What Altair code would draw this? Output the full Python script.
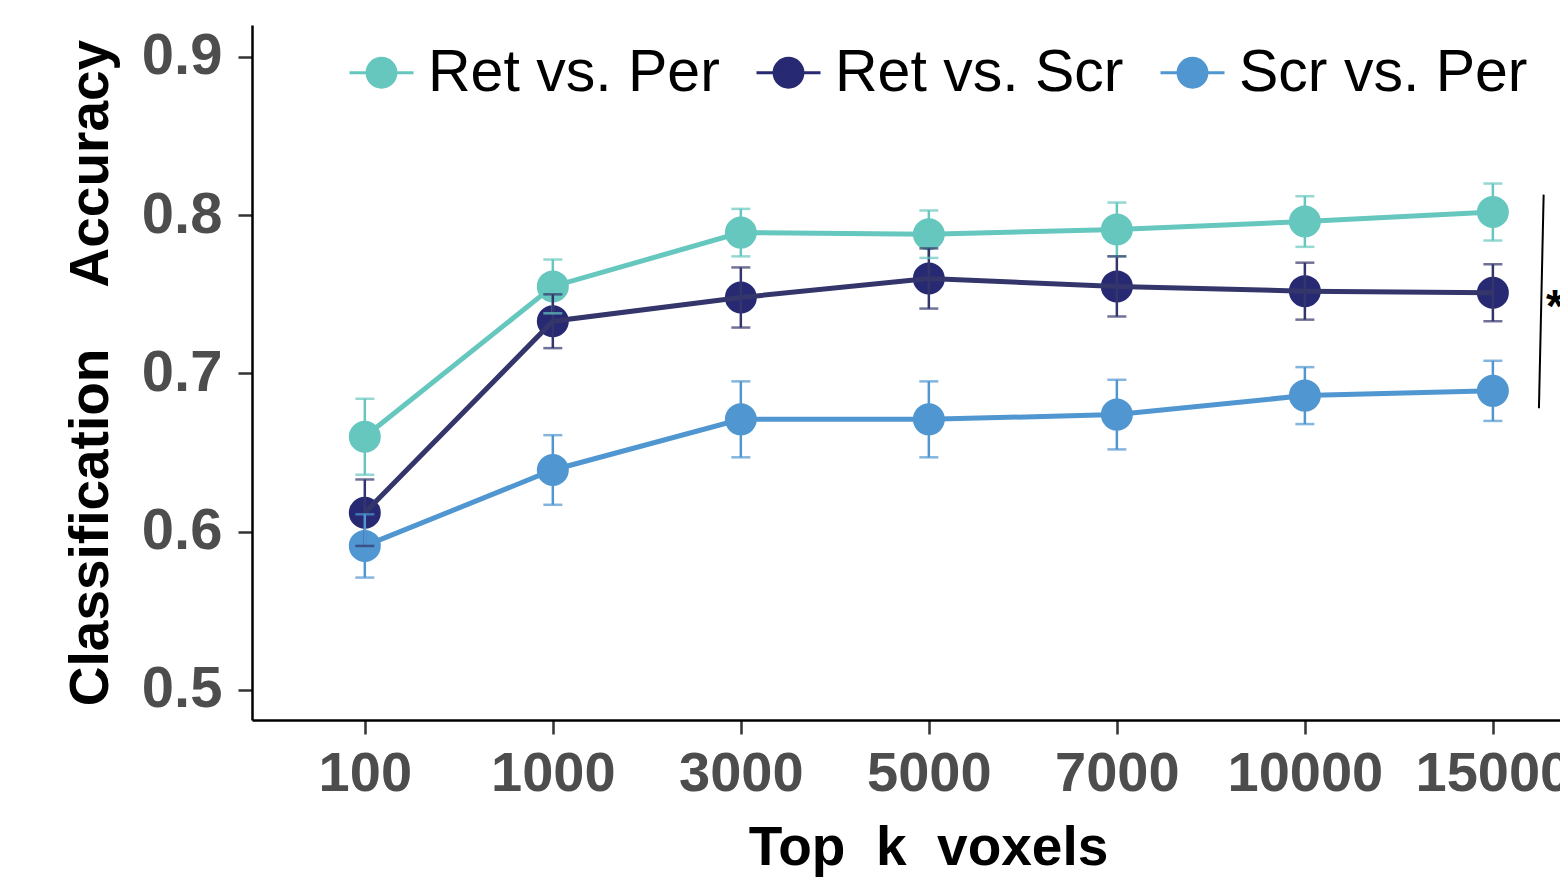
import altair as alt
import pandas as pd

k_labels = ["100", "1000", "3000", "5000", "7000", "10000", "15000"]
series_names = ["Ret vs. Per", "Ret vs. Scr", "Scr vs. Per"]

ret_per = [0.660, 0.755, 0.789, 0.788, 0.791, 0.796, 0.802]
ret_per_err = [0.024, 0.017, 0.015, 0.015, 0.017, 0.016, 0.018]
ret_scr = [0.612, 0.733, 0.748, 0.760, 0.755, 0.752, 0.751]
ret_scr_err = [0.021, 0.017, 0.019, 0.019, 0.019, 0.018, 0.018]
scr_per = [0.591, 0.639, 0.671, 0.671, 0.674, 0.686, 0.689]
scr_per_err = [0.020, 0.022, 0.024, 0.024, 0.022, 0.018, 0.019]

point_colors = ["#66C7BF", "#272A72", "#5096D0"]
line_colors = ["#66C7BF", "#33356B", "#5096D0"]

# significance bracket (data coordinates)
bracket_x = [7.27, 7.245]
bracket_y = [0.813, 0.678]
star_x = [7.283]
star_y = [0.7325]

rows = []
for name, vals, errs in zip(series_names, [ret_per, ret_scr, scr_per],
                            [ret_per_err, ret_scr_err, scr_per_err]):
    for i, (v, e) in enumerate(zip(vals, errs)):
        rows.append({"series": name, "pos": i + 1, "k": k_labels[i],
                     "acc": v, "lo": v - e, "hi": v + e})
df = pd.DataFrame(rows)

FONT = "Liberation Sans"
label_expr = "[" + ",".join(f"'{k}'" for k in k_labels) + "][datum.value - 1]"

x_enc = alt.X("pos:Q",
              scale=alt.Scale(domain=[0.4, 7.357], nice=False, zero=False),
              axis=alt.Axis(values=list(range(1, len(k_labels) + 1)),
                            labelExpr=label_expr,
                            titleX=676, titleAlign="center",
                            title="Top\u00a0\u00a0k\u00a0\u00a0voxels"))
y_scale = alt.Scale(domain=[0.481, 0.9202], nice=False, zero=False)
y_enc = alt.Y("acc:Q", scale=y_scale,
              axis=alt.Axis(values=[0.5, 0.6, 0.7, 0.8, 0.9], format=".1f",
                            title="Classification\u00a0\u00a0\u00a0\u00a0Accuracy"))

line_color = alt.Color("series:N",
                       scale=alt.Scale(domain=series_names, range=line_colors),
                       legend=None)

legend_path = ("M-1,0H1M-0.45,0A0.45,0.45,0,1,1,0.45,0"
               "A0.45,0.45,0,1,1,-0.45,0Z")
leg = alt.Legend(title=None, orient="none", direction="horizontal",
                 legendX=96, legendY=14,
                 symbolType=legend_path, symbolSize=4096,
                 symbolStrokeWidth=3,
                 labelFont=FONT, labelFontSize=59, labelColor="#000000",
                 labelOffset=13, columnPadding=30, labelLimit=0)

base = alt.Chart(df)

points = base.mark_point(filled=True, size=841, strokeWidth=3, opacity=1).encode(
    x=x_enc, y=y_enc,
    fill=alt.Fill("series:N", scale=alt.Scale(domain=series_names, range=point_colors), legend=leg),
    stroke=alt.Stroke("series:N", scale=alt.Scale(domain=series_names, range=point_colors), legend=leg),
)

lines = base.mark_line(strokeWidth=5).encode(
    x="pos:Q", y="acc:Q", color=line_color, detail="series:N")

err_rule = base.mark_rule(strokeWidth=2.5).encode(
    x="pos:Q", y="lo:Q", y2="hi:Q", color=line_color)
err_lo = base.mark_tick(orient="horizontal", size=19, thickness=2.5).encode(
    x="pos:Q", y="lo:Q", color=line_color)
err_hi = base.mark_tick(orient="horizontal", size=19, thickness=2.5).encode(
    x="pos:Q", y="hi:Q", color=line_color)

bdf = pd.DataFrame({"x": [bracket_x[0]], "x2": [bracket_x[1]],
                    "y": [bracket_y[0]], "y2": [bracket_y[1]]})
bracket = alt.Chart(bdf).mark_rule(color="#000000", strokeWidth=2).encode(
    x="x:Q", x2="x2:Q", y="y:Q", y2="y2:Q")

sdf = pd.DataFrame({"x": star_x, "y": star_y, "t": ["*"]})
star = alt.Chart(sdf).mark_text(font=FONT, fontSize=46, fontWeight="bold",
                                color="#000000",
                                align="left", baseline="alphabetic").encode(
    x="x:Q", y="y:Q", text="t:N")

chart = alt.layer(points, lines, err_rule, err_lo, err_hi, bracket, star).properties(
    width=1308, height=695,
    autosize=alt.AutoSizeParams(type="none"),
    padding={"left": 252, "top": 25, "right": 0, "bottom": 158},
    background="#FFFFFF",
).configure_view(stroke=None).configure_axis(
    grid=False,
    domainColor="#000000", domainWidth=2.5,
    tickColor="#333333", tickWidth=2.5, tickSize=14,
    labelFont=FONT, labelFontSize=56, labelFontWeight="bold", labelColor="#4D4D4D",
    labelPadding=12,
    titleFont=FONT, titleFontSize=55, titleFontWeight="bold", titleColor="#000000",
).configure_axisY(titlePadding=22, labelPadding=16, labelFontSize=58).configure_axisX(
    titlePadding=20, labelFlush=False, labelOverlap=False)

chart.save("out.html", embed_options={"renderer": "svg", "actions": False})
